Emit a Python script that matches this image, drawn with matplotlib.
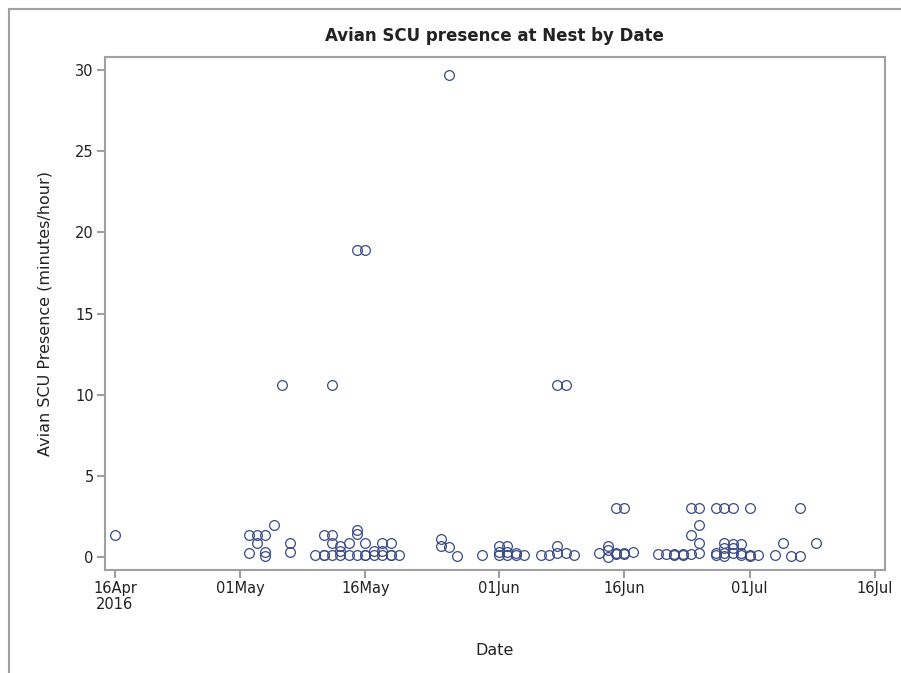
import matplotlib
matplotlib.use("Agg")
import matplotlib.pyplot as plt
import matplotlib.dates as mdates
from matplotlib.patches import Rectangle
import numpy as np

# observation dates and presence values (minutes/hour)
dates = (
    ["2016-04-16"]
    + ["2016-05-02"] * 2 + ["2016-05-03"] * 2 + ["2016-05-04"] * 3
    + ["2016-05-05", "2016-05-06"] + ["2016-05-07"] * 2
    + ["2016-05-10"] + ["2016-05-11"] * 3 + ["2016-05-12"] * 4
    + ["2016-05-13"] * 3 + ["2016-05-14"] * 2 + ["2016-05-15"] * 4
    + ["2016-05-16"] * 4 + ["2016-05-17"] * 2 + ["2016-05-18"] * 3
    + ["2016-05-19"] * 3 + ["2016-05-20"]
    + ["2016-05-25"] * 2 + ["2016-05-26"] * 2 + ["2016-05-27", "2016-05-30"]
    + ["2016-06-01"] * 3 + ["2016-06-02"] * 3 + ["2016-06-03"] * 2
    + ["2016-06-04", "2016-06-06", "2016-06-07"]
    + ["2016-06-08"] * 3 + ["2016-06-09"] * 2 + ["2016-06-10", "2016-06-13"]
    + ["2016-06-14"] * 3 + ["2016-06-15"] * 3 + ["2016-06-16"] * 3
    + ["2016-06-17", "2016-06-20", "2016-06-21"]
    + ["2016-06-22"] * 2 + ["2016-06-23"] * 2 + ["2016-06-24"] * 3
    + ["2016-06-25"] * 4 + ["2016-06-27"] * 3 + ["2016-06-28"] * 5
    + ["2016-06-29"] * 4 + ["2016-06-30"] * 3 + ["2016-07-01"] * 3
    + ["2016-07-02", "2016-07-04", "2016-07-05", "2016-07-06"]
    + ["2016-07-07"] * 2 + ["2016-07-09"]
)
presence = [
    1.35,
    1.35, 0.25, 1.35, 0.85, 1.35, 0.3, 0.05,
    2.0, 10.6, 0.85, 0.3,
    0.15, 1.35, 0.15, 0.15, 10.6, 1.35, 0.85, 0.15,
    0.7, 0.4, 0.15, 0.85, 0.15, 18.9, 1.65, 1.4, 0.15,
    18.9, 0.85, 0.15, 0.1, 0.35, 0.15, 0.85, 0.4, 0.15,
    0.85, 0.15, 0.1, 0.15,
    1.1, 0.65, 29.7, 0.6, 0.05, 0.1,
    0.65, 0.3, 0.1, 0.65, 0.3, 0.1, 0.25, 0.15,
    0.1, 0.1, 0.1,
    10.6, 0.65, 0.25, 10.6, 0.25, 0.1, 0.25,
    0.7, 0.45, 0.0, 3.0, 0.25, 0.2, 3.0, 0.25, 0.2,
    0.3, 0.2, 0.2,
    0.2, 0.15, 0.2, 0.1, 3.0, 1.35, 0.2,
    3.0, 2.0, 0.85, 0.25, 3.0, 0.25, 0.1, 3.0, 0.85, 0.55, 0.25, 0.05,
    3.0, 0.8, 0.55, 0.25, 0.8, 0.25, 0.1, 3.0, 0.1, 0.05,
    0.1, 0.1, 0.85, 0.05,
    3.0, 0.05, 0.85,
]
tick_dates = ["2016-04-16", "2016-05-01", "2016-05-16", "2016-06-01",
              "2016-06-16", "2016-07-01", "2016-07-16"]
tick_labels = ["16Apr\n2016", "01May", "16May", "01Jun", "16Jun", "01Jul", "16Jul"]

x = mdates.datestr2num(dates)
ticks = mdates.datestr2num(tick_dates)

fig = plt.figure(figsize=(9.01, 6.73), dpi=100)
ax = fig.add_axes([0.1165, 0.153, 0.8655, 0.762])

ax.plot(x, presence, linestyle="none", marker="o", markersize=7,
        markerfacecolor="none", markeredgecolor="#3a4a86", markeredgewidth=0.9)

ax.set_xlim(ticks[0] - 1.2, ticks[-1] + 1.2)
ax.set_ylim(-0.8, 30.8)
ax.set_xticks(ticks)
ax.set_xticklabels(tick_labels, linespacing=1.1)
ax.set_yticks(np.arange(0, 31, 5))

for s in ax.spines.values():
    s.set_color("#a0a0a0")
    s.set_linewidth(1.5)
ax.tick_params(direction="out", length=6, width=1.5, color="#a0a0a0",
               labelsize=10.5, labelcolor="#222222", pad=2)

ax.set_xlabel("Date", fontsize=11.5, color="#222222", labelpad=22)
ax.set_ylabel("Avian SCU Presence (minutes/hour)", fontsize=11.5, color="#222222", labelpad=16)
ax.set_title("Avian SCU presence at Nest by Date", fontsize=12, fontweight="semibold",
             color="#222222", pad=12)

fig.patches.append(Rectangle((0.01, -0.02), 1.0, 1.007, transform=fig.transFigure,
                             fill=False, edgecolor="#a0a0a0", linewidth=1.5))

fig.savefig("out.png", dpi=100)
